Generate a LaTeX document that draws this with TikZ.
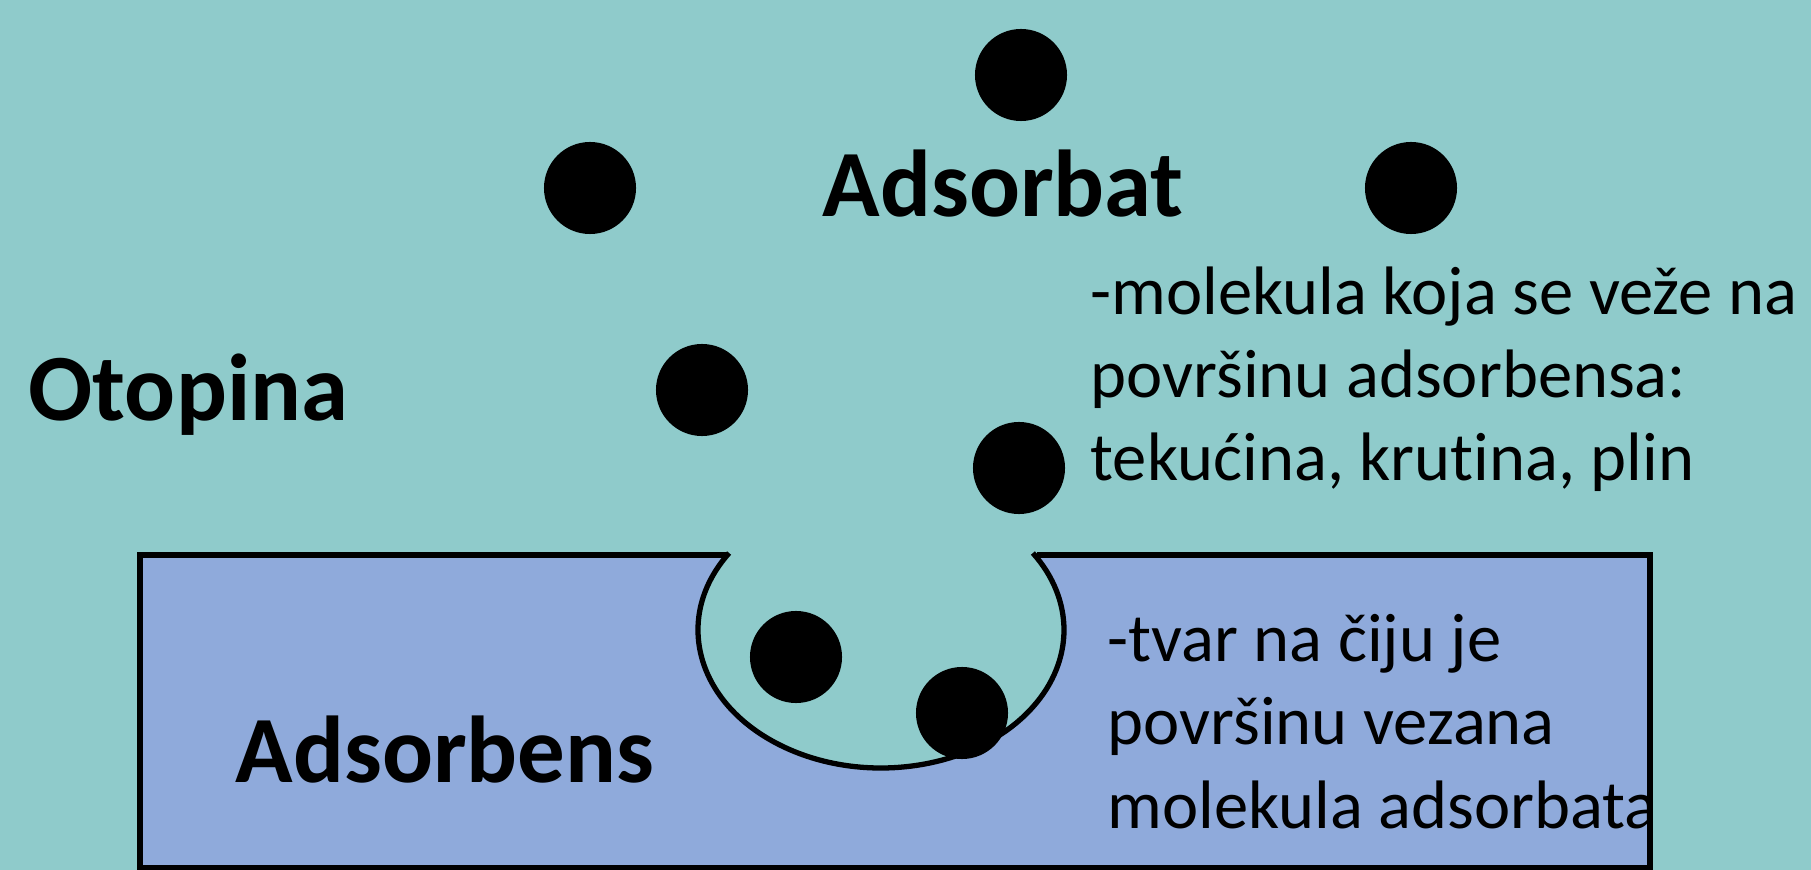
\documentclass[tikz,border=0pt]{standalone}
\usepackage{fontspec}
\setmainfont{Carlito}[Ligatures=NoCommon]
\definecolor{otopina}{RGB}{143,203,203}
\definecolor{adsorbens}{RGB}{143,170,219}

\begin{document}
\begin{tikzpicture}[x=0.01cm,y=-0.01cm,
    molekula/.style={circle, fill=black, inner sep=0pt, minimum size=0.92cm},
    naslov/.style={font=\fontsize{27}{32}\selectfont\bfseries, inner sep=0pt, anchor=base west},
    opis/.style={font=\fontsize{19.5}{23.7}\selectfont, align=left, inner sep=0pt, anchor=base west}]
                \fill[otopina] (0,0) rectangle (1811,870);
                \useasboundingbox (0,0) rectangle (1811,870);
                \coordinate (A) at (140,555);
                \coordinate (B) at (1650,868);
                \coordinate (L) at (727,555);
                \coordinate (R) at (1037,555);
                \coordinate (P) at (881,630);
                % adsorbens s udubinom
                \fill[adsorbens] (A) rectangle (B);
                \fill[otopina] (P) ellipse [x radius=183, y radius=138];
                \draw[line width=1.7pt] (L) -- (A) |- (B) |- (R);
                \draw[line width=1.5pt] (P) ++(213.9:183 and 138) coordinate (C)
                    arc[start angle=213.9, end angle=-33.9, x radius=183, y radius=138];
                % molekule adsorbata
                \node[molekula] (m1) at (1021,75) {};
                \node[molekula] (m2) at (590,188) {};
                \node[molekula] (m3) at (1411,188) {};
                \node[molekula] (m4) at (702,390) {};
                \node[molekula] (m5) at (1019,468) {};
                \node[molekula] (m6) at (796,657) {};
                \node[molekula] (m7) at (962,713) {};
                % tekst (base = zadnji redak)
                \node[naslov] (adsorbat) at (822,217) {Adsorbat};
                \node[naslov] (otopina) at (28,420) {Otopina};
                \node[naslov] (adsorbens) at (235,782) {Adsorbens};
                \node[opis] (o1) at (1090,481) {-molekula koja se veže na\\površinu adsorbensa:\\tekućina, krutina, plin};
                \node[opis] (o2) at (1107,828) {-tvar na čiju je\\površinu vezana\\molekula adsorbata};
            \end{tikzpicture}
\end{document}
